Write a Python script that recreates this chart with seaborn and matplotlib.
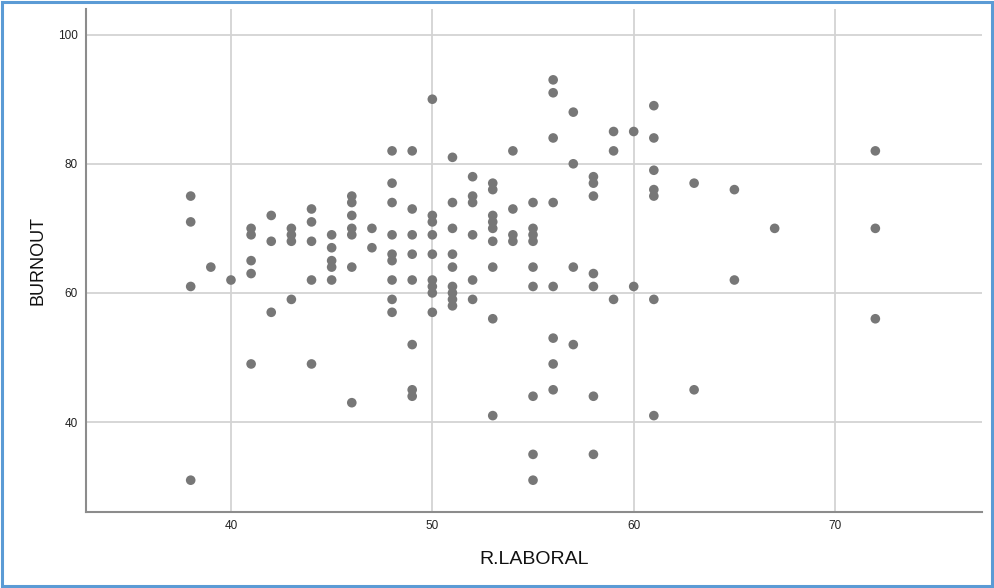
import matplotlib
matplotlib.use("Agg")
import matplotlib.pyplot as plt
from matplotlib.patches import Rectangle
import seaborn as sns
import pandas as pd

# R.LABORAL values (one entry per respondent)
rlaboral = [
    38, 38, 38, 38,
    39,
    40,
    41, 41, 41, 41, 41,
    42, 42, 42,
    43, 43, 43, 43,
    44, 44, 44, 44, 44,
    45, 45, 45, 45, 45,
    46, 46, 46, 46, 46, 46, 46,
    47, 47,
    48, 48, 48, 48, 48, 48, 48, 48, 48,
    49, 49, 49, 49, 49, 49, 49, 49,
    50, 50, 50, 50, 50, 50, 50, 50, 50,
    51, 51, 51, 51, 51, 51, 51, 51, 51,
    52, 52, 52, 52, 52, 52,
    53, 53, 53, 53, 53, 53, 53, 53, 53,
    54, 54, 54, 54,
    55, 55, 55, 55, 55, 55, 55, 55, 55,
    56, 56, 56, 56, 56, 56, 56, 56,
    57, 57, 57, 57,
    58, 58, 58, 58, 58, 58, 58,
    59, 59, 59,
    60, 60,
    61, 61, 61, 61, 61, 61, 61,
    63, 63,
    65, 65,
    67,
    72, 72, 72,
]

# BURNOUT values (same order)
burnout = [
    75, 71, 61, 31,
    64,
    62,
    70, 69, 65, 63, 49,
    72, 68, 57,
    70, 69, 68, 59,
    73, 71, 68, 62, 49,
    69, 67, 65, 64, 62,
    75, 74, 72, 70, 69, 64, 43,
    70, 67,
    82, 77, 74, 69, 66, 65, 62, 59, 57,
    82, 73, 69, 66, 62, 52, 45, 44,
    90, 72, 71, 69, 66, 62, 61, 60, 57,
    81, 74, 70, 66, 64, 61, 60, 59, 58,
    78, 75, 74, 69, 62, 59,
    77, 76, 72, 71, 70, 68, 64, 56, 41,
    82, 73, 69, 68,
    74, 70, 69, 68, 64, 61, 44, 35, 31,
    93, 91, 84, 74, 61, 53, 49, 45,
    88, 80, 64, 52,
    78, 77, 75, 63, 61, 44, 35,
    85, 82, 59,
    85, 61,
    89, 84, 79, 76, 75, 59, 41,
    77, 45,
    76, 62,
    70,
    82, 70, 56,
]

x_ticks = [40, 50, 60, 70]
y_ticks = [40, 60, 80, 100]

df = pd.DataFrame({"R.LABORAL": rlaboral, "BURNOUT": burnout})

sns.set_style("white")
plt.rcParams["font.family"] = ["Liberation Sans", "DejaVu Sans"]

fig = plt.figure(figsize=(9.94, 5.88), dpi=100)
ax = fig.add_axes([0.0865, 0.129, 0.9015, 0.856])

ax.grid(True, color="#d3d3d3", linewidth=1.3, zorder=0)
ax.set_axisbelow(True)

sns.scatterplot(data=df, x="R.LABORAL", y="BURNOUT", ax=ax,
                color="#777777", s=48, edgecolor="none", linewidth=0, zorder=3)

ax.set_xlim(32.8, 77.3)
ax.set_ylim(26.05, 104.0)
ax.set_xticks(x_ticks)
ax.set_yticks(y_ticks)
ax.tick_params(axis="both", length=0, labelsize=8.5, colors="#222222", pad=6)

for side in ["top", "right"]:
    ax.spines[side].set_visible(False)
for side in ["left", "bottom"]:
    ax.spines[side].set_color("#8c8c8c")
    ax.spines[side].set_linewidth(1.5)

ax.set_xlabel("R.LABORAL", fontsize=14, color="#111111", labelpad=13)
ax.set_ylabel("BURNOUT", fontsize=13, color="#111111", labelpad=8)

fig.patches.append(Rectangle((0.002, 0.003), 0.996, 0.994, transform=fig.transFigure,
                             fill=False, edgecolor="#5b9bd5", linewidth=2.2))

fig.savefig("out.png", dpi=100, facecolor="white")
